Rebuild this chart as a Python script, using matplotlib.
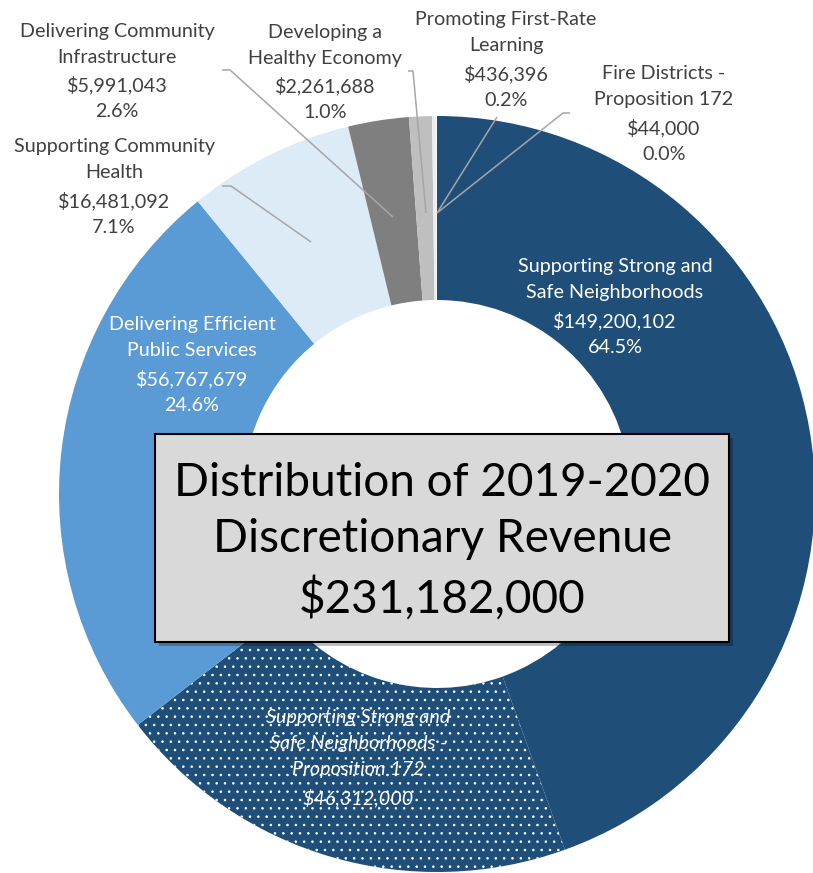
import matplotlib
matplotlib.use("Agg")
import matplotlib.pyplot as plt
from matplotlib.patches import Rectangle

plt.rcParams['font.family'] = ['Lato', 'DejaVu Sans']
plt.rcParams['hatch.color'] = 'white'
plt.rcParams['hatch.linewidth'] = 0.6

# canvas in pixels
W, H = 813, 873

# chart data
categories = [
    "Supporting Strong and\nSafe Neighborhoods",
    "Delivering Efficient\nPublic Services",
    "Supporting Community\nHealth",
    "Delivering Community\nInfrastructure",
    "Developing a\nHealthy Economy",
    "Promoting First-Rate\nLearning",
    "Fire Districts -\nProposition 172",
]
amounts = [149200102, 56767679, 16481092, 5991043, 2261688, 436396, 44000]
prop172_label = "Supporting Strong and\nSafe Neighborhoods -\nProposition 172"
prop172_amount = 46312000   # share of the first category, drawn dotted
total_revenue = 231182000
title = "Distribution of 2019-2020\nDiscretionary Revenue\n$231,182,000"

# slice order clockwise from 12 o'clock
values = [amounts[0] - prop172_amount, prop172_amount] + amounts[1:]
colors = ['#1F4E79', '#1F4E79', '#5B9BD5', '#DDEBF7', '#7F7F7F',
          '#BFBFBF', '#EDEDED', '#FFFFFF']

# layout (pixels)
CX, CY, R_OUT, R_IN = 437, 494, 378, 194
TEXT_DARK = '#404040'
LEADER = '#A6A6A6'
FS = 14.2
LS = 1.65


def fmt_label(i):
    pct = amounts[i] / total_revenue * 100
    return "{}\n${:,}\n{:.1f}%".format(categories[i], amounts[i], pct)


fig = plt.figure(figsize=(W / 100, H / 100), dpi=100)
ax = fig.add_axes([0, 0, 1, 1])

wedges, _ = ax.pie(values, colors=colors, startangle=-90, counterclock=True,
                   radius=R_OUT, center=(CX, CY),
                   wedgeprops=dict(width=R_OUT - R_IN, linewidth=0))
wedges[1].set_hatch('..')

ax.set_xlim(0, W)
ax.set_ylim(H, 0)
ax.set_aspect('equal')
ax.axis('off')

# labels: (category index, x, y, color)
label_pos = [
    (0, 615, 307, 'white'),
    (1, 192, 365, 'white'),
    (2, 114, 187, TEXT_DARK),
    (3, 117, 71.5, TEXT_DARK),
    (4, 325, 72.5, TEXT_DARK),
    (5, 506, 60, TEXT_DARK),
    (6, 664, 114, TEXT_DARK),
]
for i, x, y, c in label_pos:
    ax.text(x, y, fmt_label(i), color=c, fontsize=FS, ha='center', va='center',
            multialignment='center', linespacing=LS)

ax.text(358, 758, prop172_label + "\n${:,}".format(prop172_amount), color='white',
        fontsize=FS, style='italic', ha='center', va='center',
        multialignment='center', linespacing=LS)

# leader lines for the small slices
leaders = [
    [(222, 186), (231, 186), (311, 242)],
    [(222, 70), (230, 70), (393, 217)],
    [(408, 71), (413, 71), (426, 213)],
    [(497, 117), (437, 213)],
    [(570, 113), (563, 113), (437, 213)],
]
for pts in leaders:
    xs, ys = zip(*pts)
    ax.plot(xs, ys, color=LEADER, lw=1.1, solid_capstyle='butt')

# title box with a soft shadow
ax.add_patch(Rectangle((159, 438), 574, 208, facecolor='#000000', alpha=0.25,
                       linewidth=0, zorder=3))
ax.add_patch(Rectangle((155, 434), 574, 208, facecolor='#D9D9D9',
                       edgecolor='black', linewidth=1.5, zorder=4))
ax.text(442, 541, title, fontsize=33, color='black', ha='center', va='center',
        multialignment='center', linespacing=1.42, zorder=5)

fig.savefig('out.png', dpi=100, facecolor='white')
